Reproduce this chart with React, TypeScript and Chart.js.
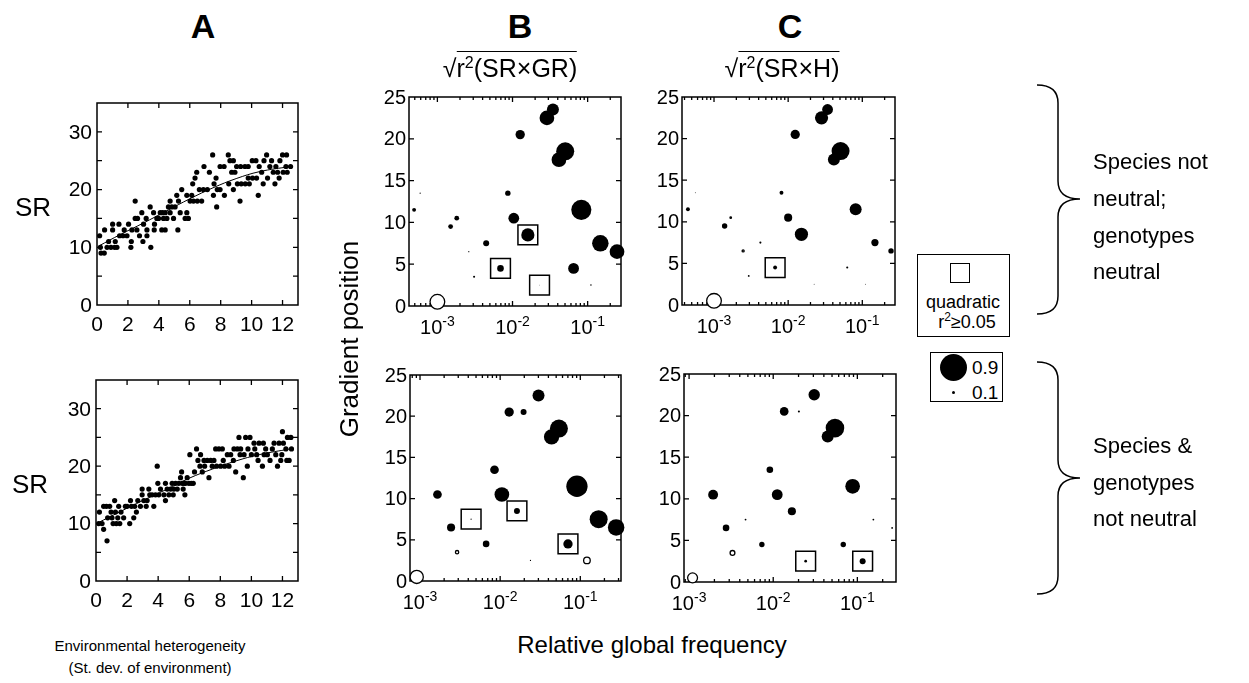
import React, { useEffect, useRef } from 'react';
import { Chart, registerables } from 'chart.js';

Chart.register(...registerables);

const FONT = '"Liberation Sans", Arial, Helvetica, sans-serif';
const R_SCALE = 15;
const BOX_R = 14;

// ---------------- Panel A : SR vs environmental heterogeneity ----------------
const aTopX = [0.17,0.22,0.26,0.47,0.49,0.65,0.75,0.90,1.01,1.01,1.14,1.18,1.29,1.42,1.46,1.68,1.76,1.94,2.04,2.19,2.22,2.26,2.47,2.47,2.58,2.62,2.75,2.90,2.97,3.01,3.18,3.23,3.23,3.44,3.48,3.66,3.70,3.72,3.87,3.98,4.09,4.19,4.24,4.30,4.41,4.41,4.52,4.62,4.73,4.73,4.84,4.95,5.05,5.16,5.23,5.27,5.38,5.48,5.70,5.81,5.81,5.91,6.02,6.13,6.19,6.24,6.34,6.45,6.49,6.62,6.77,6.88,6.92,7.14,7.27,7.48,7.53,7.57,7.70,7.74,7.78,7.96,7.96,8.22,8.24,8.49,8.52,8.60,8.71,8.82,8.82,8.92,9.03,9.08,9.25,9.29,9.33,9.57,9.59,9.78,9.78,9.85,10.04,10.06,10.28,10.32,10.43,10.49,10.65,10.75,10.80,10.97,11.03,11.18,11.29,11.40,11.51,11.57,11.68,11.78,11.83,12.0,12.04,12.22,12.26,12.30,12.52];
const aTopY = [12,10,9,9,13,10,11,10,14,13,10,11,10,14,12,12,13,12,14,10,11,13,18,15,13,15,12,16,11,14,15,13,12,17,10,16,13,14,15,15,16,13,16,15,13,16,15,17,18,16,17,15,17,19,13,18,16,20,15,19,16,15,18,19,21,18,22,23,18,20,18,20,24,20,23,26,19,21,22,17,20,24,20,24,19,26,21,25,23,25,20,23,24,21,18,24,21,24,21,24,22,21,25,22,25,22,19,24,23,21,25,26,22,24,25,23,21,24,23,22,25,26,23,24,26,23,24];
const aTopCurveX = [0.1, 1.5, 3, 4.5, 6, 7.5, 9, 10.5, 12.5];
const aTopCurveY = [10.2, 12.2, 14.2, 16.3, 18.4, 20.3, 21.9, 23.1, 24.0];

const aBotX = [0.22,0.17,0.39,0.49,0.49,0.67,0.71,0.75,0.88,0.97,1.03,1.10,1.20,1.25,1.31,1.40,1.46,1.53,1.61,1.78,1.89,2.0,2.17,2.22,2.28,2.43,2.49,2.60,2.69,2.86,2.97,2.97,3.08,3.23,3.29,3.40,3.46,3.61,3.72,3.83,3.94,3.98,4.04,4.15,4.37,4.47,4.47,4.58,4.69,4.80,4.90,4.97,5.01,5.12,5.23,5.33,5.44,5.51,5.55,5.61,5.66,5.72,5.76,5.87,5.98,6.04,6.13,6.26,6.34,6.47,6.56,6.69,6.73,6.84,6.95,6.99,7.16,7.27,7.38,7.48,7.59,7.70,7.76,7.91,8.02,8.13,8.19,8.28,8.45,8.56,8.67,8.84,8.88,8.99,9.10,9.20,9.27,9.31,9.48,9.53,9.63,9.74,9.78,9.91,10.0,10.17,10.22,10.34,10.43,10.49,10.71,10.77,10.82,10.92,11.03,11.20,11.35,11.46,11.57,11.68,11.78,11.89,11.96,12.0,12.06,12.22,12.28,12.32,12.43,12.54,12.58];
const aBotY = [12,10,10,9,13,13,7,11,13,12,11,10,14,12,10,11,13,10,12,11,13,13,10,14,13,11,13,12,14,13,15,16,14,13,14,16,15,15,13,15,20,17,15,16,15,17,14,16,15,16,17,15,16,17,16,17,18,19,17,16,17,15,17,18,17,22,17,17,19,23,21,20,22,19,21,20,21,18,21,20,21,23,20,23,20,23,21,20,22,20,22,21,23,19,23,25,22,23,18,22,25,20,23,25,22,24,23,22,21,24,20,24,22,23,22,21,23,24,22,20,24,21,22,26,24,23,21,25,21,25,23];
const aBotCurveX = [0.1, 1.5, 3, 4.5, 6, 7.5, 9, 10.5, 12.5];
const aBotCurveY = [10.1, 12.0, 14.0, 15.9, 17.9, 19.5, 20.9, 22.0, 23.0];

const aXTicks = [0, 2, 4, 6, 8, 10, 12];
const aYTicks = [0, 5, 10, 15, 20, 25, 30, 35];
const aYLabels = [0, 10, 20, 30];

// ---------------- Panels B & C : gradient position vs relative global frequency ----------------
const bTopFreq = [0.0345,0.0287,0.01265,0.0503,0.0415,0.00867,0.00059,0.00049,0.0824,0.00181,0.0104,0.0015,0.016,0.00446,0.1476,0.00262,0.246,0.00692,0.065,0.00308,0.0229,0.1107,0.001];
const bTopPos  = [23.5,22.5,20.5,18.5,17.5,13.5,13.5,11.5,11.5,10.5,10.5,9.5,8.5,7.5,7.5,6.5,6.5,4.5,4.5,3.5,2.5,2.5,0.5];
const bTopR    = [0.40,0.49,0.31,0.60,0.49,0.18,0.04,0.13,0.67,0.16,0.36,0.16,0.44,0.20,0.55,0.04,0.49,0.22,0.36,0.07,0.02,0.05,0.49];
const bTopOpen = [22];
const bTopBoxed = [12, 17, 20];

const cTopFreq = [0.034,0.0282,0.01245,0.0509,0.0414,0.00813,0.00056,0.000445,0.0813,0.00168,0.00139,0.01,0.0151,0.00422,0.148,0.00247,0.244,0.00667,0.0626,0.00294,0.0224,0.11,0.001];
const cTopPos  = [23.5,22.5,20.5,18.5,17.5,13.5,13.5,11.5,11.5,10.5,9.5,10.5,8.5,7.5,7.5,6.5,6.5,4.5,4.5,3.5,2.5,2.5,0.5];
const cTopR    = [0.36,0.44,0.31,0.60,0.40,0.13,0.03,0.13,0.40,0.05,0.18,0.27,0.44,0.07,0.24,0.07,0.18,0.13,0.07,0.06,0.03,0.03,0.49];
const cTopOpen = [9, 15, 22];
const cTopBoxed = [17];

const bBotFreq = [0.0301,0.01296,0.0196,0.0541,0.0438,0.0085,0.0908,0.00165,0.0105,0.0162,0.00434,0.1694,0.28,0.00244,0.00668,0.0702,0.0029,0.0239,0.121,0.00091];
const bBotPos  = [22.5,20.5,20.5,18.5,17.5,13.5,11.5,10.5,10.5,8.5,7.5,7.5,6.5,6.5,4.5,4.5,3.5,2.5,2.5,0.5];
const bBotR    = [0.40,0.31,0.20,0.60,0.51,0.29,0.71,0.29,0.49,0.20,0.04,0.60,0.55,0.27,0.22,0.31,0.11,0.04,0.22,0.44];
const bBotOpen = [16, 18, 19];
const bBotBoxed = [9, 10, 15];

const cBotFreq = [0.0307,0.0135,0.0202,0.0542,0.0444,0.00912,0.0879,0.00193,0.01116,0.01667,0.00469,0.155,0.00275,0.259,0.00733,0.068,0.00328,0.0243,0.1156,0.0011];
const cBotPos  = [22.5,20.5,20.5,18.5,17.5,13.5,11.5,10.5,10.5,8.5,7.5,7.5,6.5,6.5,4.5,4.5,3.5,2.5,2.5,0.5];
const cBotR    = [0.38,0.29,0.07,0.62,0.40,0.22,0.49,0.33,0.36,0.27,0.06,0.06,0.22,0.06,0.18,0.18,0.16,0.09,0.20,0.33];
const cBotOpen = [16, 19];
const cBotBoxed = [17, 18];

const gYTicks = [0, 5, 10, 15, 20, 25];
const gYLabels = [0, 5, 10, 15, 20, 25];
const logLabels = [1e-3, 1e-2, 1e-1];

// ---------------- layout helpers ----------------
const PAD = { left: 70, top: 16, right: 16, bottom: 46 };

type Rect = { l: number; t: number; r: number; b: number };
type AxisCfg = {
  log: boolean;
  xMajor: number[];
  xMinor: number[];
  yMajor: number[];
  xLabels: number[];
  yLabels: number[];
  font: number;
  yPad: number;
  xBase: number;
};

function logMinor(min: number, max: number): number[] {
  const out: number[] = [];
  for (let k = -5; k <= 1; k++) {
    for (let m = 2; m <= 9; m++) {
      const v = m * Math.pow(10, k);
      if (v > min && v < max) out.push(v);
    }
  }
  return out;
}

function axesPlugin(cfg: AxisCfg) {
  return {
    id: 'frameAxes',
    beforeDatasetsDraw(chart: any) {
      const { ctx, chartArea } = chart;
      const { left, top, right, bottom } = chartArea;
      const xs = chart.scales.x;
      const ys = chart.scales.y;
      const MAJ = 5;
      const MIN = 3;
      ctx.save();
      ctx.strokeStyle = '#000';
      ctx.lineWidth = 1.3;
      ctx.beginPath();
      const vx = (v: number, len: number) => {
        const p = xs.getPixelForValue(v);
        if (p <= left + 1 || p >= right - 1) return;
        ctx.moveTo(p, bottom);
        ctx.lineTo(p, bottom - len);
        ctx.moveTo(p, top);
        ctx.lineTo(p, top + len);
      };
      cfg.xMajor.forEach((v) => vx(v, MAJ));
      cfg.xMinor.forEach((v) => vx(v, MIN));
      cfg.yMajor.forEach((v) => {
        const p = ys.getPixelForValue(v);
        if (p <= top + 1 || p >= bottom - 1) return;
        ctx.moveTo(left, p);
        ctx.lineTo(left + MAJ, p);
        ctx.moveTo(right, p);
        ctx.lineTo(right - MAJ, p);
      });
      ctx.stroke();
      ctx.lineWidth = 1.5;
      ctx.strokeRect(left, top, right - left, bottom - top);

      ctx.fillStyle = '#000';
      const base = `${cfg.font}px ${FONT}`;
      ctx.font = base;
      ctx.textAlign = 'right';
      ctx.textBaseline = 'middle';
      cfg.yLabels.forEach((v) => {
        ctx.fillText(String(v), left - cfg.yPad, ys.getPixelForValue(v) + 1);
      });
      ctx.textBaseline = 'alphabetic';
      if (cfg.log) {
        const supSize = Math.round(cfg.font * 0.72);
        const sup = `${supSize}px ${FONT}`;
        cfg.xLabels.forEach((v) => {
          const e = String(Math.round(Math.log10(v)));
          const p = xs.getPixelForValue(v);
          ctx.font = base;
          const wb = ctx.measureText('10').width;
          ctx.font = sup;
          const we = ctx.measureText(e).width;
          const x0 = p - (wb + we) / 2;
          ctx.textAlign = 'left';
          ctx.font = base;
          ctx.fillText('10', x0, bottom + cfg.xBase);
          ctx.font = sup;
          ctx.fillText(e, x0 + wb, bottom + cfg.xBase - cfg.font * 0.42);
        });
      } else {
        ctx.textAlign = 'center';
        cfg.xLabels.forEach((v) => {
          ctx.fillText(String(v), xs.getPixelForValue(v), bottom + cfg.xBase);
        });
      }
      ctx.restore();
    },
  };
}

function ChartPanel(props: {
  rect: Rect;
  xType: 'linear' | 'logarithmic';
  xMin: number;
  xMax: number;
  yMin: number;
  yMax: number;
  datasets: any[];
  axis: AxisCfg;
}) {
  const ref = useRef<HTMLCanvasElement>(null);
  const { rect } = props;
  const w = rect.r - rect.l + PAD.left + PAD.right;
  const h = rect.b - rect.t + PAD.top + PAD.bottom;
  useEffect(() => {
    const chart = new Chart(ref.current as HTMLCanvasElement, {
      type: 'scatter',
      data: { datasets: props.datasets },
      options: {
        responsive: false,
        animation: false,
        devicePixelRatio: 1,
        events: [],
        layout: { padding: PAD },
        plugins: { legend: { display: false }, tooltip: { enabled: false } },
        scales: {
          x: { type: props.xType, min: props.xMin, max: props.xMax, display: false },
          y: { type: 'linear', min: props.yMin, max: props.yMax, display: false },
        },
      } as any,
      plugins: [axesPlugin(props.axis) as any],
    });
    return () => chart.destroy();
  }, []);
  return (
    <canvas
      ref={ref}
      width={w}
      height={h}
      style={{ position: 'absolute', left: rect.l - PAD.left, top: rect.t - PAD.top, width: w, height: h }}
    />
  );
}

function scatterSets(xs: number[], ys: number[], cx: number[], cy: number[]) {
  return [
    {
      data: cx.map((x, i) => ({ x, y: cy[i] })),
      showLine: true,
      borderColor: '#000',
      borderWidth: 1,
      pointRadius: 0,
      tension: 0.4,
      clip: false,
    },
    {
      data: xs.map((x, i) => ({ x, y: ys[i] })),
      pointRadius: 2.6,
      pointBackgroundColor: '#000',
      pointBorderWidth: 0,
      clip: false,
    },
  ];
}

function bubbleSets(freq: number[], pos: number[], size: number[], open: number[], boxed: number[]) {
  const idx = freq.map((_, i) => i);
  const filled = idx.filter((i) => !open.includes(i));
  const hollow = idx.filter((i) => open.includes(i));
  return [
    {
      data: boxed.map((i) => ({ x: freq[i], y: pos[i] })),
      pointStyle: 'rect',
      pointRadius: BOX_R,
      pointBackgroundColor: 'rgba(0,0,0,0)',
      pointBorderColor: '#000',
      pointBorderWidth: 1.5,
      clip: false,
    },
    {
      data: filled.map((i) => ({ x: freq[i], y: pos[i] })),
      pointRadius: filled.map((i) => size[i] * R_SCALE),
      pointBackgroundColor: '#000',
      pointBorderWidth: 0,
      clip: false,
    },
    {
      data: hollow.map((i) => ({ x: freq[i], y: pos[i] })),
      pointRadius: hollow.map((i) => size[i] * R_SCALE),
      pointBackgroundColor: '#fff',
      pointBorderColor: '#000',
      pointBorderWidth: 1.3,
      clip: false,
    },
  ];
}

const aAxis: AxisCfg = {
  log: false, xMajor: aXTicks, xMinor: [], yMajor: aYTicks,
  xLabels: aXTicks, yLabels: aYLabels, font: 21, yPad: 5, xBase: 26,
};
function gAxis(min: number, max: number): AxisCfg {
  return {
    log: true, xMajor: logLabels, xMinor: logMinor(min, max), yMajor: gYTicks,
    xLabels: logLabels, yLabels: gYLabels, font: 20, yPad: 3, xBase: 28,
  };
}

const Label = (p: { x: number; y: number; size: number; bold?: boolean; children: any; align?: 'center' | 'left' }) => (
  <div
    style={{
      position: 'absolute',
      left: p.x,
      top: p.y,
      transform: p.align === 'left' ? 'translate(0,-50%)' : 'translate(-50%,-50%)',
      fontSize: p.size,
      fontWeight: p.bold ? 'bold' : 'normal',
      lineHeight: 1,
      whiteSpace: 'nowrap',
    }}
  >
    {p.children}
  </div>
);

function brace(xTip: number, xMid: number, xCusp: number, yTop: number, yCusp: number, yBot: number) {
  const r = 18;
  return `M ${xTip} ${yTop} Q ${xMid} ${yTop} ${xMid} ${yTop + r} L ${xMid} ${yCusp - r} Q ${xMid} ${yCusp} ${xCusp} ${yCusp} Q ${xMid} ${yCusp} ${xMid} ${yCusp + r} L ${xMid} ${yBot - r} Q ${xMid} ${yBot} ${xTip} ${yBot}`;
}

const Sqrt = (p: { x: number; y: number; text: string }) => (
  <div
    style={{
      position: 'absolute', left: p.x, top: p.y, transform: 'translateX(-50%)',
      fontSize: 25, lineHeight: '26px', whiteSpace: 'nowrap',
    }}
  >
    <span>√</span>
    <span style={{ borderTop: '1.5px solid #000', paddingTop: 2 }}>
      r<sup style={{ fontSize: 16 }}>2</sup>({p.text})
    </span>
  </div>
);

export default function App() {
  const aTop: Rect = { l: 97, t: 103, r: 298, b: 305 };
  const aBot: Rect = { l: 96, t: 380, r: 298, b: 581 };
  const bTop: Rect = { l: 409, t: 97, r: 621, b: 306 };
  const cTop: Rect = { l: 682, t: 97, r: 895, b: 305 };
  const bBot: Rect = { l: 410, t: 375, r: 621, b: 581 };
  const cBot: Rect = { l: 684, t: 374, r: 896, b: 582 };
  return (
    <div
      style={{
        position: 'absolute', left: 0, top: 0, width: 1249, height: 683,
        background: '#fff', fontFamily: FONT, color: '#000', overflow: 'hidden',
      }}
    >
      <ChartPanel rect={aTop} xType="linear" xMin={0} xMax={13} yMin={0} yMax={35}
        datasets={scatterSets(aTopX, aTopY, aTopCurveX, aTopCurveY)} axis={aAxis} />
      <ChartPanel rect={aBot} xType="linear" xMin={0} xMax={13} yMin={0} yMax={35}
        datasets={scatterSets(aBotX, aBotY, aBotCurveX, aBotCurveY)} axis={aAxis} />
      <ChartPanel rect={bTop} xType="logarithmic" xMin={4.19e-4} xMax={0.278} yMin={0} yMax={25}
        datasets={bubbleSets(bTopFreq, bTopPos, bTopR, bTopOpen, bTopBoxed)} axis={gAxis(4.19e-4, 0.278)} />
      <ChartPanel rect={cTop} xType="logarithmic" xMin={3.7e-4} xMax={0.276} yMin={0} yMax={25}
        datasets={bubbleSets(cTopFreq, cTopPos, cTopR, cTopOpen, cTopBoxed)} axis={gAxis(3.7e-4, 0.276)} />
      <ChartPanel rect={bBot} xType="logarithmic" xMin={7.5e-4} xMax={0.322} yMin={0} yMax={25}
        datasets={bubbleSets(bBotFreq, bBotPos, bBotR, bBotOpen, bBotBoxed)} axis={gAxis(7.5e-4, 0.322)} />
      <ChartPanel rect={cBot} xType="logarithmic" xMin={8.7e-4} xMax={0.288} yMin={0} yMax={25}
        datasets={bubbleSets(cBotFreq, cBotPos, cBotR, cBotOpen, cBotBoxed)} axis={gAxis(8.7e-4, 0.288)} />

      <Label x={203} y={26} size={34} bold>A</Label>
      <Label x={520} y={26} size={34} bold>B</Label>
      <Label x={790} y={26} size={34} bold>C</Label>
      <Sqrt x={510} y={50} text="SR×GR" />
      <Sqrt x={782} y={50} text="SR×H" />

      <Label x={33} y={207} size={26}>SR</Label>
      <Label x={30} y={484} size={26}>SR</Label>

      <div
        style={{
          position: 'absolute', left: 349 - 150, top: 339 - 15, width: 300, height: 30,
          lineHeight: '30px', fontSize: 26, textAlign: 'center', transform: 'rotate(-90deg)', whiteSpace: 'nowrap',
        }}
      >
        Gradient position
      </div>
      <Label x={652} y={645} size={24}>Relative global frequency</Label>
      <Label x={150} y={645} size={15}>Environmental heterogeneity</Label>
      <Label x={150} y={667} size={15}>(St. dev. of environment)</Label>

      {/* legend: quadratic box */}
      <div style={{ position: 'absolute', left: 917, top: 254, width: 93, height: 83, border: '1.5px solid #000', boxSizing: 'border-box' }}>
        <div style={{ position: 'absolute', left: 32, top: 8, width: 20, height: 20, border: '1.5px solid #000', boxSizing: 'border-box' }} />
        <Label x={45} y={47} size={18}>quadratic</Label>
        <Label x={49} y={66} size={18}>r<sup style={{ fontSize: 12 }}>2</sup>≥0.05</Label>
      </div>
      {/* legend: size key */}
      <div style={{ position: 'absolute', left: 930, top: 352, width: 73, height: 50, border: '1.5px solid #000', boxSizing: 'border-box' }}>
        <div style={{ position: 'absolute', left: 22 - 13.5, top: 14 - 13.5, width: 27, height: 27, borderRadius: '50%', background: '#000' }} />
        <div style={{ position: 'absolute', left: 22 - 1.5, top: 39 - 1.5, width: 3, height: 3, borderRadius: '50%', background: '#000' }} />
        <Label x={41} y={14} size={19} align="left">0.9</Label>
        <Label x={41} y={39} size={19} align="left">0.1</Label>
      </div>

      <svg width={1249} height={683} style={{ position: 'absolute', left: 0, top: 0 }}>
        <path d={brace(1037, 1058, 1080, 85, 199, 314)} fill="none" stroke="#000" strokeWidth={1.5} />
        <path d={brace(1037, 1058, 1080, 362, 478, 594)} fill="none" stroke="#000" strokeWidth={1.5} />
      </svg>

      <Label x={1093} y={162} size={22} align="left">Species not</Label>
      <Label x={1093} y={199} size={22} align="left">neutral;</Label>
      <Label x={1093} y={236} size={22} align="left">genotypes</Label>
      <Label x={1093} y={272} size={22} align="left">neutral</Label>

      <Label x={1093} y={446} size={22} align="left">Species &amp;</Label>
      <Label x={1093} y={483} size={22} align="left">genotypes</Label>
      <Label x={1093} y={519} size={22} align="left">not neutral</Label>
    </div>
  );
}
